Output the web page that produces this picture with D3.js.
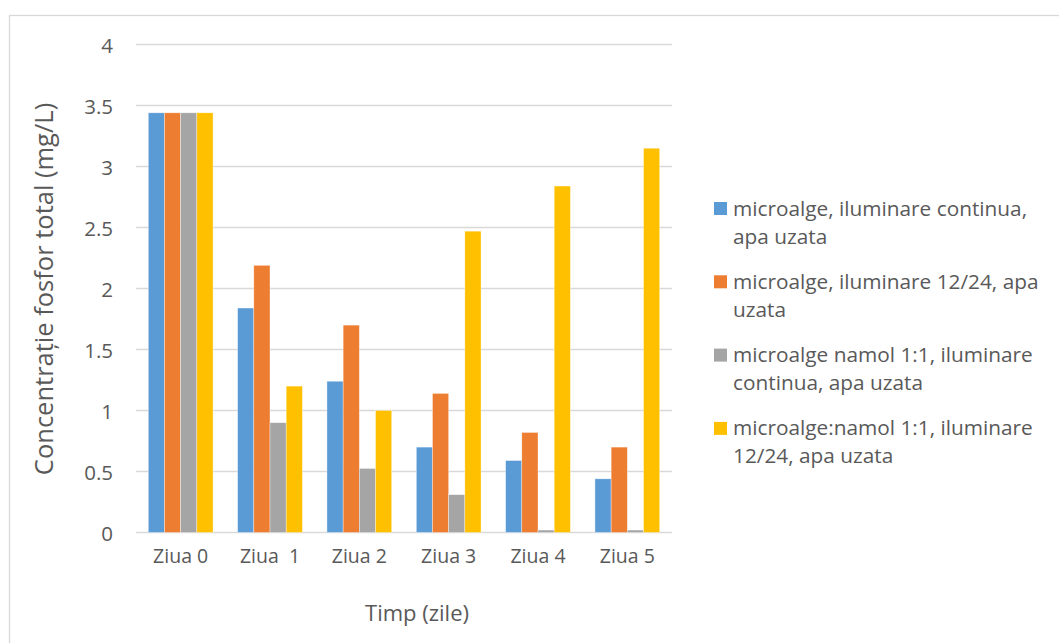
<!DOCTYPE html>
<html>
<head>
<meta charset="utf-8">
<script src="https://cdn.jsdelivr.net/npm/d3@7"></script>
<style>
  html, body { margin: 0; padding: 0; background: #fff; }
  svg text { font-family: "Open Sans", "Noto Sans", sans-serif; fill: #595959; white-space: pre; }
</style>
</head>
<body>
<svg id="chart" width="1059" height="643"></svg>
<script>
// Total phosphorus concentration per day for four cultivation setups
const categories = ["Ziua 0", "Ziua  1", "Ziua 2", "Ziua 3", "Ziua 4", "Ziua 5"];
const seriesNames = [
  ["microalge, iluminare continua,", "apa uzata"],
  ["microalge, iluminare 12/24, apa", "uzata"],
  ["microalge namol 1:1, iluminare", "continua, apa uzata"],
  ["microalge:namol 1:1, iluminare", "12/24, apa uzata"]
];
const seriesColors = ["#5b9bd5", "#ed7d31", "#a5a5a5", "#ffc000"];
const contContinua   = [3.44, 1.84, 1.24, 0.70, 0.59, 0.44];
const cont1224       = [3.44, 2.19, 1.70, 1.14, 0.82, 0.70];
const namolContinua  = [3.44, 0.90, 0.525, 0.31, 0.02, 0.02];
const namol1224      = [3.44, 1.20, 1.00, 2.47, 2.84, 3.15];
const yTicks = [0, 0.5, 1, 1.5, 2, 2.5, 3, 3.5, 4];
const yTickLabels = ["0", "0.5", "1", "1.5", "2", "2.5", "3", "3.5", "4"];

const seriesValues = [contContinua, cont1224, namolContinua, namol1224];

const svg = d3.select("#chart");
const plot = { left: 136, right: 672, top: 44.5, bottom: 532.5 };

// chart area frame
svg.append("rect")
  .attr("x", 9.5).attr("y", 15.5)
  .attr("width", 1070).attr("height", 650)
  .attr("fill", "#fff").attr("stroke", "#d9d9d9").attr("stroke-width", 1.3);

const x = d3.scaleBand()
  .domain(categories)
  .range([plot.left, plot.right])
  .paddingInner(0.275)
  .paddingOuter(0.1375);

const xSub = d3.scaleBand()
  .domain(d3.range(seriesValues.length))
  .range([0, x.bandwidth()]);

const y = d3.scaleLinear().domain([0, 4]).range([plot.bottom, plot.top]);

// horizontal gridlines
svg.append("g")
  .selectAll("line")
  .data(yTicks)
  .join("line")
  .attr("x1", plot.left).attr("x2", plot.right)
  .attr("y1", d => y(d)).attr("y2", d => y(d))
  .attr("stroke", "#d9d9d9").attr("stroke-width", 1.5);

// y axis labels
const yAxis = d3.axisLeft(y)
  .tickValues(yTicks)
  .tickFormat((d, i) => yTickLabels[i])
  .tickSize(0)
  .tickPadding(0);
const gy = svg.append("g")
  .attr("transform", `translate(${113},0)`)
  .call(yAxis);
gy.select(".domain").remove();
gy.selectAll("text").style("font-size", "20.5px").attr("fill", "#595959").attr("dy", "7.5");

// bars
const groups = svg.append("g")
  .selectAll("g")
  .data(categories)
  .join("g")
  .attr("transform", d => `translate(${x(d)},0)`);

groups.selectAll("rect")
  .data((c, ci) => seriesValues.map((vals, si) => ({ si, v: vals[ci] })))
  .join("rect")
  .attr("x", d => xSub(d.si))
  .attr("width", xSub.bandwidth())
  .attr("y", d => y(d.v))
  .attr("height", d => y(0) - y(d.v))
  .attr("fill", d => seriesColors[d.si])
  .attr("stroke", "#fff").attr("stroke-width", 0.6).attr("stroke-opacity", 0.6);

// x axis labels
const xAxis = d3.axisBottom(x).tickSize(0).tickPadding(0);
const gx = svg.append("g")
  .attr("transform", `translate(0,${563})`)
  .call(xAxis);
gx.select(".domain").remove();
gx.selectAll("text").style("font-size", "19.5px").attr("fill", "#595959").attr("dy", "0");

// axis titles
svg.append("text")
  .attr("x", 417).attr("y", 621)
  .attr("text-anchor", "middle")
  .style("font-size", "22px")
  .text("Timp (zile)");

svg.append("text")
  .attr("transform", `translate(${53},${289}) rotate(-90)`)
  .attr("text-anchor", "middle")
  .style("font-size", "25.5px")
  .text("Concentrație fosfor total (mg/L)");

// legend
const legend = svg.append("g")
  .selectAll("g")
  .data(seriesNames)
  .join("g")
  .attr("transform", (d, i) => `translate(714,${202 + i * 73.3})`);

legend.append("rect")
  .attr("width", 13).attr("height", 13)
  .attr("fill", (d, i) => seriesColors[i]);

legend.append("text")
  .style("font-size", "20.8px")
  .selectAll("tspan")
  .data(d => d)
  .join("tspan")
  .attr("x", 19)
  .attr("y", (d, i) => 13.5 + i * 28)
  .text(d => d);
</script>
</body>
</html>
